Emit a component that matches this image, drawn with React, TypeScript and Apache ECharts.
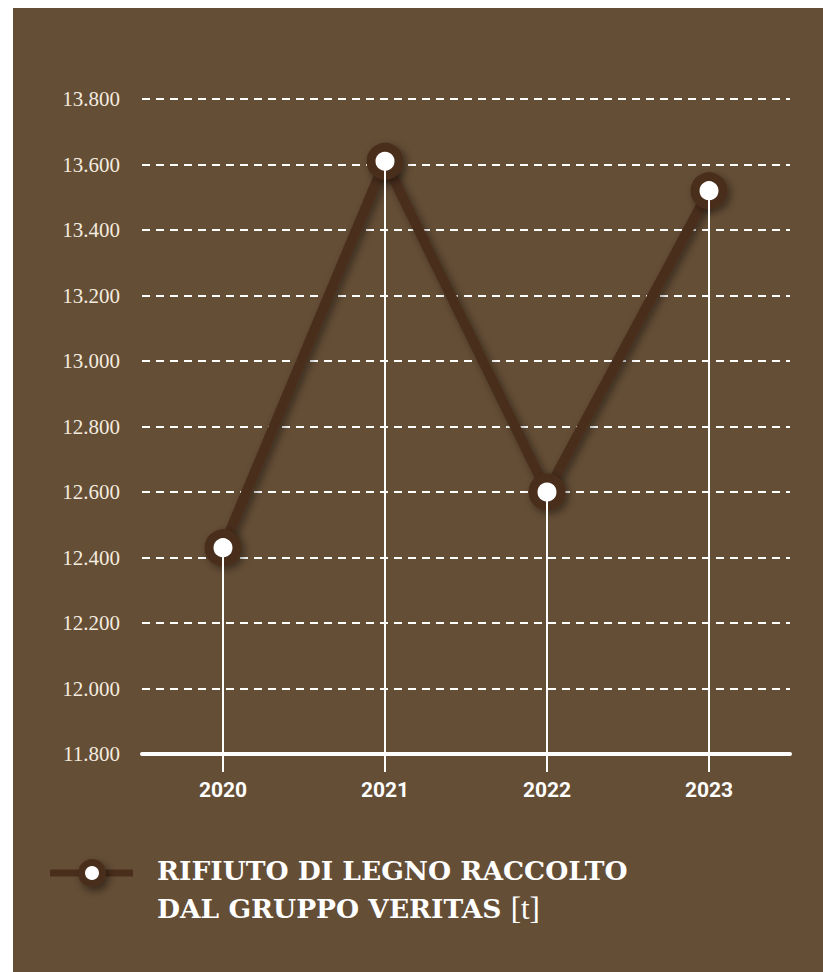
import React, { useEffect, useRef } from "react";
import * as echarts from "echarts";

const years = ["2020", "2021", "2022", "2023"];
const values = [12430, 13610, 12600, 13520];
const yMin = 11800;
const yMax = 13800;
const yStep = 200;
const titleLine1 = "RIFIUTO DI LEGNO RACCOLTO";
const titleLine2 = "DAL GRUPPO VERITAS";
const unit = "[t]";

const BG = "#654E36";
const DARK = "#4A2E1C";

function fmt(v: number): string {
  return v.toString().replace(/\B(?=(\d{3})+(?!\d))/g, ".");
}

export default function App() {
  const ref = useRef<HTMLDivElement>(null);
  useEffect(() => {
    if (!ref.current) return;
    const chart = echarts.init(ref.current, null, { renderer: "svg" });
    chart.setOption({
      animation: false,
      backgroundColor: BG,
      grid: { left: 129, right: 33, top: 91, bottom: 218, containLabel: false },
      xAxis: {
        type: "category",
        data: years,
        boundaryGap: true,
        axisLine: { show: true, lineStyle: { color: "#ffffff", width: 4 } },
        axisTick: { show: true, alignWithLabel: true, length: 18, lineStyle: { color: "#ffffff", width: 2 } },
        axisLabel: {
          color: "#ffffff",
          fontFamily: "Roboto",
          fontWeight: "bold",
          fontSize: 21,
          margin: 25,
        },
        splitLine: { show: false },
      },
      yAxis: {
        type: "value",
        min: yMin,
        max: yMax,
        interval: yStep,
        axisLine: { show: false },
        axisTick: { show: false },
        axisLabel: {
          color: "#F3EBDF",
          fontFamily: "Liberation Serif",
          fontSize: 21,
          margin: 22,
          formatter: (v: number) => fmt(v),
        },
        splitLine: {
          show: true,
          lineStyle: { color: "#ffffff", width: 2, type: [8, 6] },
        },
      },
      series: [
        {
          type: "line",
          data: values,
          symbol: "none",
          lineStyle: { width: 0, opacity: 0 },
          z: 1,
          silent: true,
          markLine: {
            symbol: "none",
            silent: true,
            label: { show: false },
            lineStyle: { color: "#ffffff", width: 2, type: "solid" },
            data: years.map((y, i) => [
              { coord: [y, values[i]] },
              { coord: [y, yMin] },
            ]),
          },
        },
        {
          type: "line",
          data: values,
          z: 3,
          symbol: "circle",
          symbolSize: 28,
          lineStyle: {
            color: DARK,
            width: 10,
            shadowColor: "rgba(0,0,0,0.45)",
            shadowBlur: 8,
            shadowOffsetX: 3,
            shadowOffsetY: 3,
          },
          itemStyle: {
            color: "#ffffff",
            borderColor: DARK,
            borderWidth: 9,
            shadowColor: "rgba(0,0,0,0.45)",
            shadowBlur: 8,
            shadowOffsetX: 3,
            shadowOffsetY: 3,
          },
        },
      ],
      graphic: [
        {
          type: "line",
          shape: { x1: 37, y1: 865, x2: 120, y2: 865 },
          style: { stroke: DARK, lineWidth: 7 },
        },
        {
          type: "circle",
          shape: { cx: 79, cy: 865, r: 14 },
          style: {
            fill: DARK,
            shadowColor: "rgba(0,0,0,0.5)",
            shadowBlur: 8,
            shadowOffsetX: 3,
            shadowOffsetY: 4,
          },
        },
        {
          type: "circle",
          shape: { cx: 79, cy: 865, r: 7 },
          style: { fill: "#ffffff" },
        },
        {
          type: "text",
          left: 144,
          top: 849,
          style: {
            text: titleLine1,
            fill: "#ffffff",
            font: "bold 26.5px 'DejaVu Serif'",
          },
        },
        {
          type: "text",
          left: 144,
          top: 885,
          style: {
            text: `{b|${titleLine2} }{u|${unit}}`,
            fill: "#ffffff",
            rich: {
              b: { fontFamily: "DejaVu Serif", fontWeight: "bold", fontSize: 26.5, fill: "#ffffff" },
              u: { fontFamily: "Liberation Serif", fontWeight: "normal", fontSize: 31, fill: "#ffffff" },
            },
          },
        },
      ],
    });
    return () => chart.dispose();
  }, []);
  return (
    <div
      ref={ref}
      style={{ position: "absolute", left: 13, top: 8, width: 810, height: 964 }}
    />
  );
}
